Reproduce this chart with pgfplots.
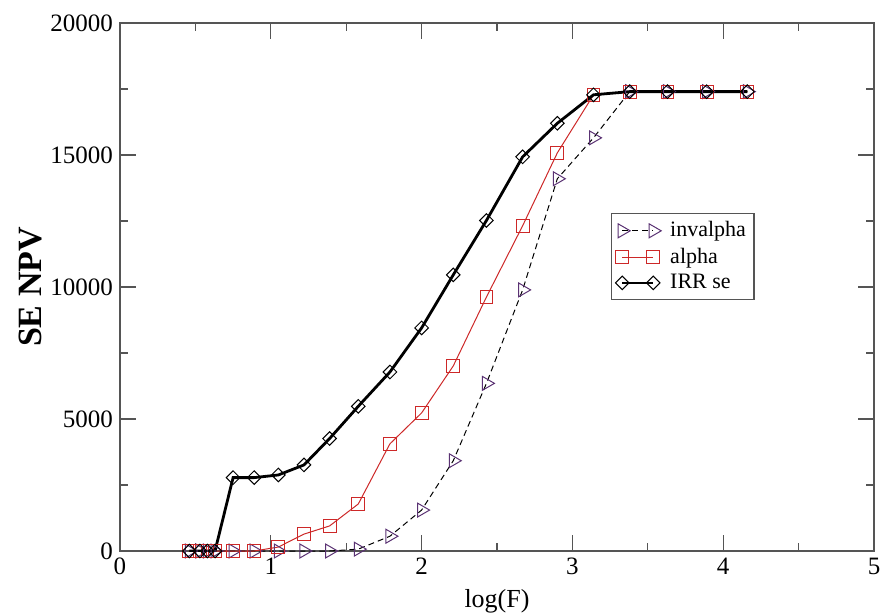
\documentclass[border=0pt]{standalone}
\usepackage{fontspec}
\setmainfont{Liberation Serif}
\usepackage{pgfplots}
\pgfplotsset{compat=1.18}
\definecolor{invcol}{RGB}{90,50,115}
\definecolor{alphacol}{RGB}{205,40,40}
\definecolor{framecol}{RGB}{85,85,85}

\begin{document}
\begin{tikzpicture}
\useasboundingbox (-60pt,-32pt) rectangle (381pt,275.5pt);
\begin{axis}[
 scale only axis, width=377pt, height=264pt,
 xmin=0, xmax=5, ymin=0, ymax=20000,
 xtick={0,1,2,3,4,5}, ytick={0,5000,10000,15000,20000},
 minor x tick num=1, minor y tick num=1,
 tick align=inside, major tick length=8pt, minor tick length=4pt,
 axis line style={framecol, line width=0.6pt},
 every tick/.style={framecol, line width=0.6pt},
 scaled y ticks=false,
 /pgf/number format/assume math mode=true,
 /pgf/number format/1000 sep={},
 tick label style={font=\fontsize{12.5}{14}\selectfont},
 xlabel={log(F)}, ylabel={SE NPV},
 xlabel style={at={(axis description cs:0.5,0)}, anchor=north, inner sep=0pt, yshift=-19pt, font=\fontsize{13}{15}\selectfont},
 ylabel style={at={(axis description cs:-0.1034,0.5)}, anchor=south, inner sep=0pt, font=\bfseries\fontsize{17}{19}\selectfont},
 legend style={at={(0.651,0.640)}, anchor=north west, draw=framecol, line width=0.6pt,
   font=\fontsize{11}{13}\selectfont, inner xsep=2pt, inner ysep=2pt, row sep=0pt, column sep=2.5pt,
   cells={anchor=west}},
 legend image code/.code={\draw[#1] plot coordinates {(0pt,0pt) (15.5pt,0pt)};},
]
\addplot[black, line width=0.5pt, dash pattern=on 3pt off 2pt, mark=triangle, mark size=4pt,
  mark options={solid, rotate=-90, draw=invcol}] coordinates {
 (0.46,0)(0.53,0)(0.58,0)(0.63,0)(0.75,0)(0.89,0)(1.05,0)(1.22,0)(1.39,0)(1.58,70)
 (1.79,560)(2.00,1550)(2.21,3420)(2.43,6350)(2.67,9890)(2.90,14100)(3.14,15650)
 (3.38,17400)(3.63,17400)(3.89,17400)(4.16,17400)};
\addlegendentry{invalpha}
\addplot[alphacol, line width=0.5pt, mark=square, mark size=3.2pt, mark options={solid}] coordinates {
 (0.46,0)(0.53,0)(0.58,0)(0.63,0)(0.75,0)(0.89,0)(1.05,150)(1.22,640)(1.39,950)(1.58,1780)
 (1.79,4060)(2.00,5230)(2.21,7010)(2.43,9620)(2.67,12320)(2.90,15080)(3.14,17280)
 (3.38,17400)(3.63,17400)(3.89,17400)(4.16,17400)};
\addlegendentry{alpha}
\addplot[black, line width=1.4pt, mark=square, mark size=2.4pt, mark options={rotate=45, line width=0.5pt}] coordinates {
 (0.46,0)(0.53,0)(0.58,0)(0.63,0)(0.75,2780)(0.89,2780)(1.05,2880)(1.22,3260)(1.39,4260)(1.58,5480)
 (1.79,6780)(2.00,8450)(2.21,10460)(2.43,12520)(2.67,14930)(2.90,16200)(3.14,17280)
 (3.38,17400)(3.63,17400)(3.89,17400)(4.16,17400)};
\addlegendentry{IRR se}
\end{axis}
\end{tikzpicture}
\end{document}
